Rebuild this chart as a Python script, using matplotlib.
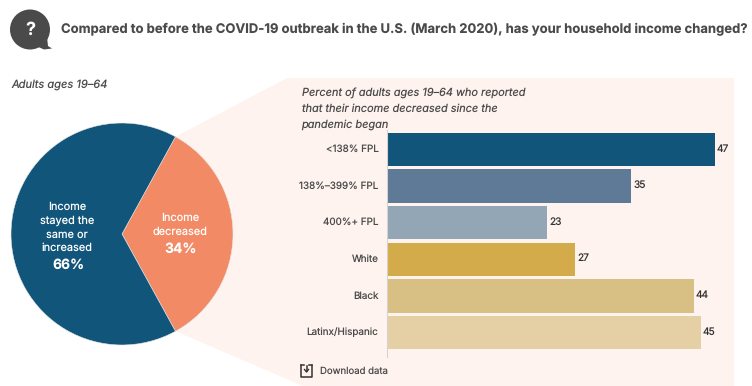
import matplotlib
matplotlib.use("Agg")
import matplotlib.pyplot as plt
from matplotlib.patches import Polygon, Circle

plt.rcParams["font.family"] = ["Inter", "DejaVu Sans"]
plt.rcParams["text.hinting"] = "none"
plt.rcParams["text.hinting_factor"] = 1

W, H = 752, 386

question = "Compared to before the COVID-19 outbreak in the U.S. (March 2020), has your household income changed?"
pie_caption = "Adults ages 19\u201364"
bar_caption = "Percent of adults ages 19\u201364 who reported\nthat their income decreased since the\npandemic began"
pie_values = [34, 66]
pie_colors = ["#F28A65", "#11557A"]
categories = ["<138% FPL", "138%\u2013399% FPL", "400%+ FPL", "White", "Black", "Latinx/Hispanic"]
values = [47, 35, 23, 27, 44, 45]
bar_colors = ["#11557A", "#5E7A96", "#92A6B6", "#D4AB4B", "#D8BF83", "#E5D0A6"]

INK = "#4A4A4A"
PANEL = "#FEF3EF"


def axes_at(left, top, width, height, **kw):
    """Add axes positioned in pixels measured from the top-left corner."""
    return fig.add_axes([left / W, 1 - (top + height) / H, width / W, height / H], **kw)


def pixel_layer(zorder):
    """Full-figure transparent axes whose data units are pixels from the top-left."""
    layer = fig.add_axes([0, 0, 1, 1], zorder=zorder)
    layer.set_xlim(0, W)
    layer.set_ylim(H, 0)
    layer.axis("off")
    return layer


fig = plt.figure(figsize=(W / 100, H / 100), dpi=100, facecolor="white")

# Page layer: callout panel, heading, icons, captions
page = pixel_layer(0)

page.add_patch(Polygon([(175, 137), (287, 78), (734, 78), (734, 386), (303, 386), (175, 331)],
                       closed=True, fc=PANEL, ec="none"))

# Speech bubble with question mark
page.add_patch(Circle((30, 29.5), 20, fc=INK, ec="none"))
page.add_patch(Polygon([(34, 45), (47, 37), (48, 46), (52, 48.5), (44, 49.5)], closed=True, fc=INK, ec="none"))
page.text(30.5, 30.5, "?", color="white", fontsize=13, fontweight="bold", ha="center", va="center")

page.text(61, 29.5, question, color=INK, fontsize=9.4, fontweight="bold", ha="left", va="center")
page.text(11, 84.5, pie_caption, color=INK, fontsize=8, style="italic", ha="left", va="center")
page.text(301.5, 109, bar_caption, color=INK, fontsize=7.88, style="italic", ha="left", va="center",
          linespacing=1.56)

# Download link
page.plot([301, 301, 312, 312], [364.5, 377, 377, 364.5], color="#333333", lw=1.1, solid_capstyle="round")
page.plot([301, 304], [364.5, 364.5], color="#333333", lw=1.1)
page.plot([309, 312], [364.5, 364.5], color="#333333", lw=1.1)
page.plot([306.5, 306.5], [366, 371], color="#333333", lw=1.1)
page.plot([304.5, 306.5, 308.5], [369.5, 372, 369.5], color="#333333", lw=1.0)
page.text(320.5, 371.5, "Download data", color=INK, fontsize=6.9, ha="left", va="center")

# Pie with the decreased share centred on the right-hand side
pie_ax = axes_at(11, 123, 222, 222, zorder=1)
pie_ax.pie(pie_values, colors=pie_colors, startangle=-61.2, counterclock=True, radius=1,
           wedgeprops={"edgecolor": "#E8E8E8", "linewidth": 0.4})
pie_ax.set_xlim(-1, 1)
pie_ax.set_ylim(-1, 1)
for patch in pie_ax.patches:
    patch.set_clip_on(False)

# Pie labels sit on their own layer above the wedges
labels = pixel_layer(3)
labels.text(67, 227.5, "Income\nstayed the\nsame or\nincreased", color="white", fontsize=7.9, ha="center",
            va="center", linespacing=1.41, zorder=5)
labels.text(68, 265, "66%", color="white", fontsize=10, fontweight="bold", ha="center", va="center", zorder=5)
labels.text(180.5, 225, "Income\ndecreased", color="white", fontsize=7.9, ha="center", va="center",
            linespacing=1.41, zorder=5)
labels.text(180.5, 249, "34%", color="white", fontsize=10, fontweight="bold", ha="center", va="center", zorder=5)

# Horizontal bars
bar_ax = axes_at(386.7, 130, 328, 227, zorder=2)
bar_ax.patch.set_alpha(0)
positions = list(range(len(categories)))
bar_ax.barh(positions, values, height=0.91, color=bar_colors)
bar_ax.set_xlim(0, 47)
bar_ax.set_ylim(5.67, -0.53)
bar_ax.set_yticks(positions, categories)
bar_ax.set_xticks([])
bar_ax.tick_params(axis="y", length=0, pad=6, labelsize=7.1, labelcolor=INK)
for tick_label in bar_ax.get_yticklabels():
    tick_label.set_verticalalignment("center")
for side in ("top", "right", "bottom"):
    bar_ax.spines[side].set_visible(False)
bar_ax.spines["left"].set_color("#D5D2D0")
bar_ax.spines["left"].set_linewidth(0.8)
for pos, val in zip(positions, values):
    bar_ax.annotate(str(val), (val, pos), xytext=(1.6, 0.5), textcoords="offset points",
                    color="#333333", fontsize=7.3, ha="left", va="center", annotation_clip=False)

fig.savefig("out.png", dpi=100)
